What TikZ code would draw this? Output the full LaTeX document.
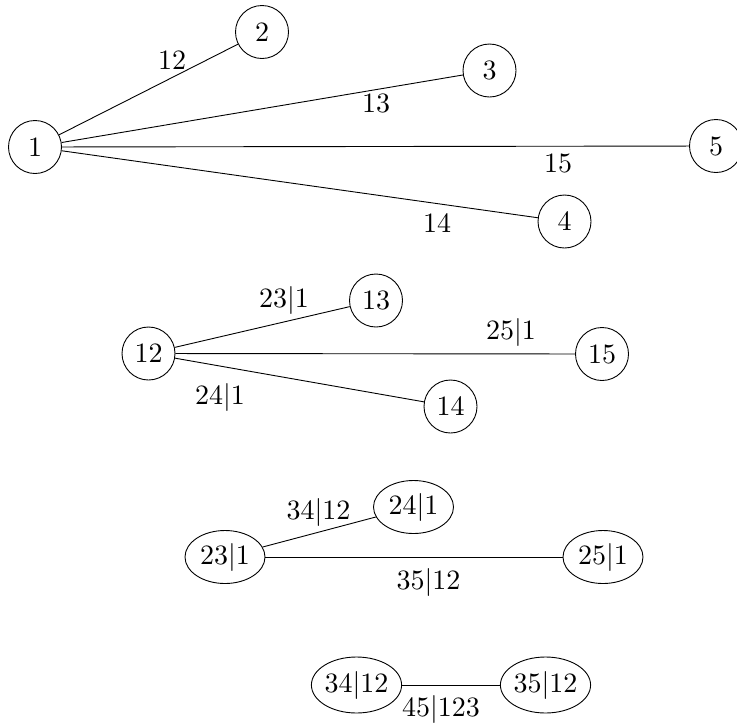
\documentclass[tikz,border=0pt]{standalone}
\usepackage{graphicx}
\usetikzlibrary{shapes.geometric}
\newcommand{\bt}[1]{\scalebox{2.8}{#1}}
\begin{document}
\begin{tikzpicture}[x=1pt,y=-1pt,
  every node/.style={font=\fontsize{10}{12}\selectfont},
  cnode/.style={draw,circle,line width=0.9pt,minimum size=53pt,inner sep=0pt},
  enode/.style={draw,ellipse,line width=0.9pt,minimum width=80pt,minimum height=53pt,inner sep=0pt},
  wnode/.style={draw,ellipse,line width=0.9pt,minimum width=87pt,minimum height=56pt,inner sep=0pt},
  lbl/.style={inner sep=0pt},
  edge/.style={line width=0.9pt}]
\useasboundingbox (0,0) rectangle (737,724);
% tree 1
\node[cnode] (n1) at (35,147) {\bt{1}};
\node[cnode] (n2) at (262,32) {\bt{2}};
\node[cnode] (n3) at (489.5,70.5) {\bt{3}};
\node[cnode] (n5) at (716,146) {\bt{5}};
\node[cnode] (n4) at (564.5,221.5) {\bt{4}};
\draw[edge] (n1) -- (n2);
\draw[edge] (n1) -- (n3);
\draw[edge] (n1) -- (n5);
\draw[edge] (n1) -- (n4);
\node[lbl] (l12) at (172,60) {\bt{12}};
\node[lbl] (l13) at (376,103) {\bt{13}};
\node[lbl] (l15) at (558,163) {\bt{15}};
\node[lbl] (l14) at (437,223.5) {\bt{14}};
% tree 2
\node[cnode] (m12) at (148.5,353.5) {\bt{12}};
\node[cnode] (m13) at (376,300.5) {\bt{13}};
\node[cnode] (m15) at (602,354) {\bt{15}};
\node[cnode] (m14) at (450.5,406.5) {\bt{14}};
\draw[edge] (m12) -- (m13);
\draw[edge] (m12) -- (m15);
\draw[edge] (m12) -- (m14);
\node[lbl] (k23) at (284,300) {\bt{23|1}};
\node[lbl] (k25) at (511,332) {\bt{25|1}};
\node[lbl] (k24) at (220,397) {\bt{24|1}};
% tree 3
\node[enode] (p23) at (225,557) {\bt{23|1}};
\node[enode] (p24) at (413.5,507) {\bt{24|1}};
\node[enode] (p25) at (603,557) {\bt{25|1}};
\draw[edge] (p23) -- (p24);
\draw[edge] (p23) -- (p25);
\node[lbl] (q34) at (318.5,512) {\bt{34|12}};
\node[lbl] (q35) at (428.5,582) {\bt{35|12}};
% tree 4
\node[wnode] (r34) at (356.5,685) {\bt{34|12}};
\node[wnode] (r35) at (545.5,685) {\bt{35|12}};
\draw[edge] (r34) -- (r35);
\node[lbl] (s45) at (441,709) {\bt{45|123}};
\end{tikzpicture}
\end{document}
